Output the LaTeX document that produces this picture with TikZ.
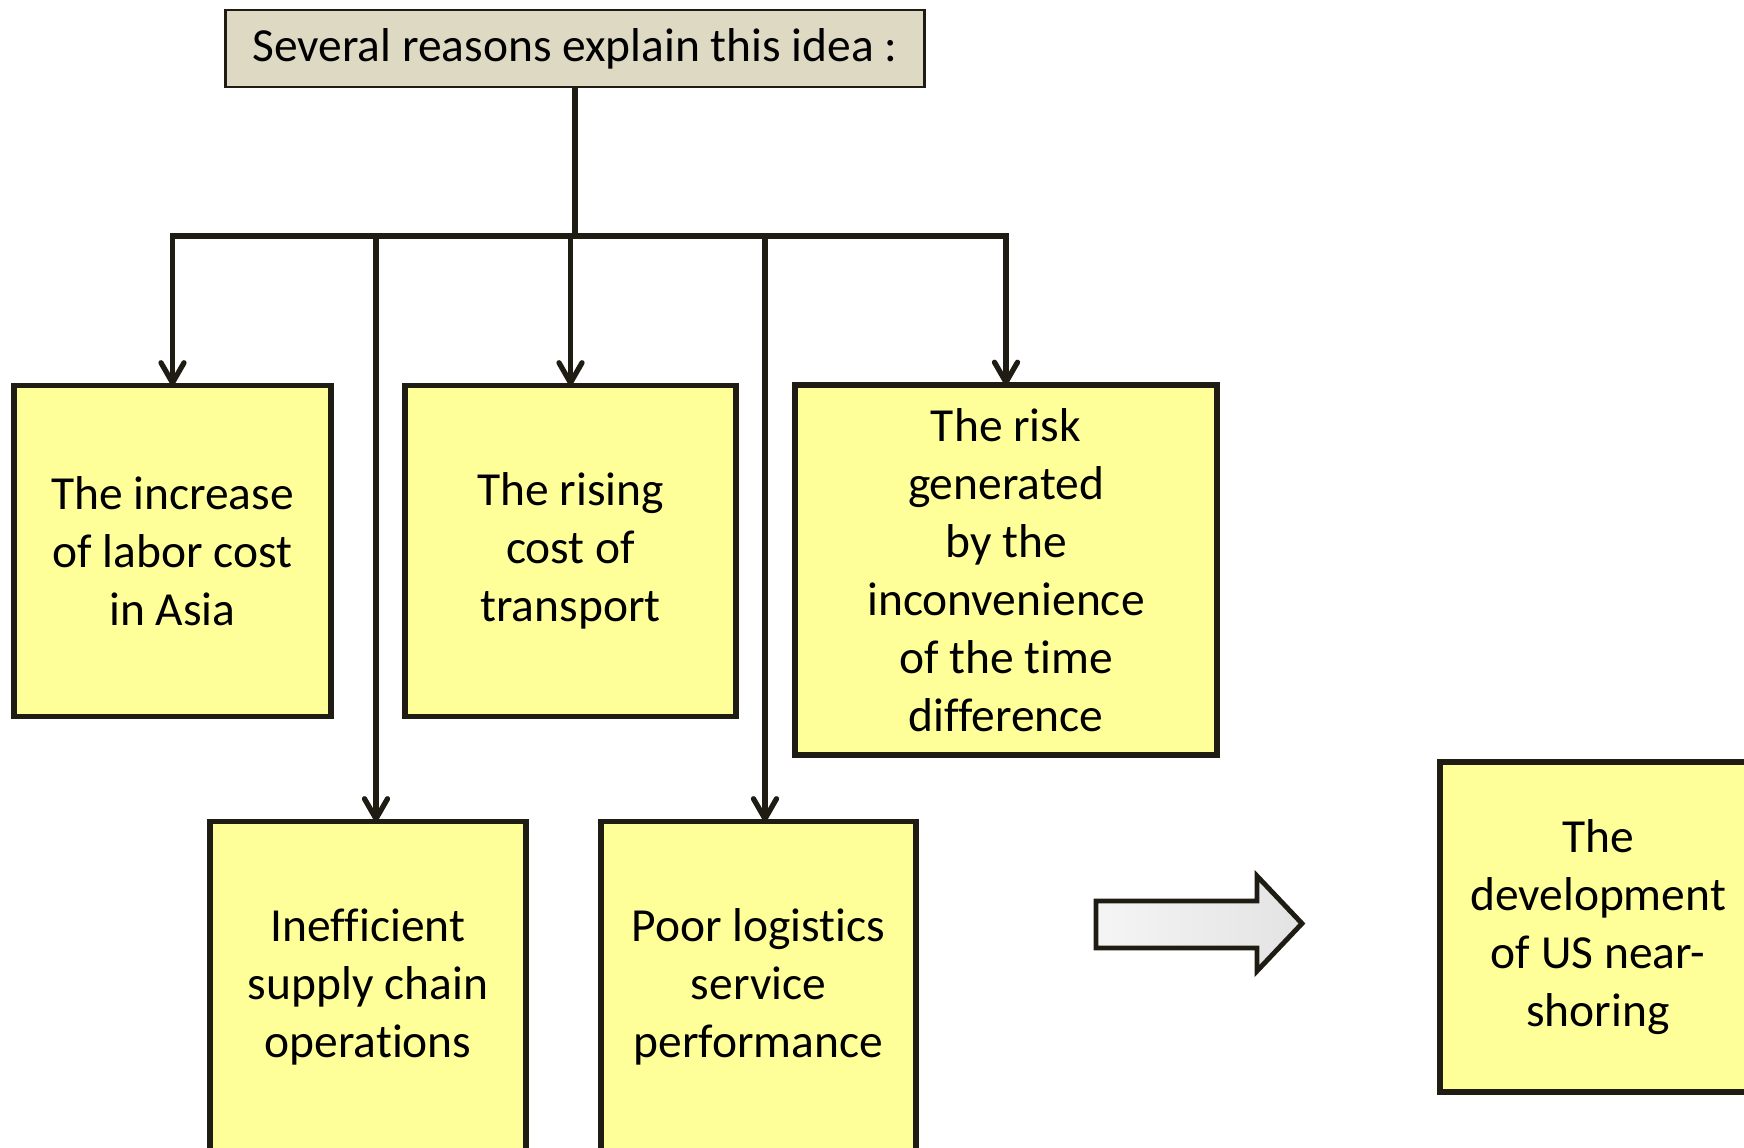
\documentclass[tikz,border=0pt]{standalone}
\usepackage{fontspec}
\setmainfont{Carlito}[Ligatures=NoCommon]
\usetikzlibrary{arrows.meta}
\definecolor{boxline}{HTML}{1F1C14}
\definecolor{boxyellow}{HTML}{FFFF99}
\definecolor{headtan}{HTML}{DDD9C3}

\begin{document}
\begin{tikzpicture}[x=0.01cm, y=-0.01cm,
    font=\fontsize{13.5pt}{16.5pt}\selectfont,
    reason/.style={draw=boxline, line width=1.6pt, fill=boxyellow, align=center,
      inner sep=0pt, outer sep=0pt},
    headbox/.style={draw=boxline, line width=0.8pt, fill=headtan, inner sep=0pt,
      outer sep=0pt, minimum width=6.98cm, minimum height=0.77cm},
    link/.style={draw=boxline, line width=1.5pt},
    linkarrow/.style={link, -{Straight Barb[length=0.2cm, width=0.23cm, round]}}]
  % Help lines
  %\draw[help lines, step=100] (0,0) grid (1744,1148);
  \useasboundingbox (0,0) rectangle (1744,1148);
  \clip (0,0) rectangle (1744,1148);
  \node[headbox] (idea) at (575, 48.5) {Several reasons explain this idea :};
  \node[reason, minimum width=3.17cm, minimum height=3.31cm] (labor) at (172.5, 551)
    {The increase\\of labor cost\\in Asia};
  \node[reason, minimum width=3.31cm, minimum height=3.31cm] (transport) at (570.5, 551)
    {The rising\\cost of\\transport};
  \node[reason, minimum width=4.22cm, minimum height=3.70cm] (risk) at (1006, 570)
    {The risk\\generated\\by the\\inconvenience\\of the time\\difference};
  \node[reason, minimum width=3.16cm, minimum height=3.31cm] (supply) at (368, 987)
    {Inefficient\\supply chain\\operations};
  \node[reason, minimum width=3.15cm, minimum height=3.31cm] (logistics) at (758.5, 987)
    {Poor logistics\\service\\performance};
  \node[reason, minimum width=3.16cm, minimum height=3.30cm] (nearshore) at (1598, 927)
    {The\\development\\of US near-\\shoring};
  % Tree of connectors
  \coordinate (bus) at (575, 236);
  \coordinate (dropsupply) at (376, 236);
  \coordinate (droplogistics) at (765, 236);
  \draw[link] (idea.south) -- (bus);
  \draw[linkarrow] (bus) -| (labor.north);
  \draw[linkarrow] (bus) -| (risk.north);
  \draw[linkarrow] (bus -| transport.north) -- (transport.north);
  \draw[linkarrow] (dropsupply) -- (dropsupply |- supply.north);
  \draw[linkarrow] (droplogistics) -- (droplogistics |- logistics.north);
  % Block arrow
  \draw[boxline, line width=1.4pt, left color=gray!8, right color=gray!22]
    (1096, 901) -- (1257, 901) -- (1257, 876) -- (1302, 923.5)
    -- (1257, 971) -- (1257, 948) -- (1096, 948) -- cycle;
\end{tikzpicture}
\end{document}
